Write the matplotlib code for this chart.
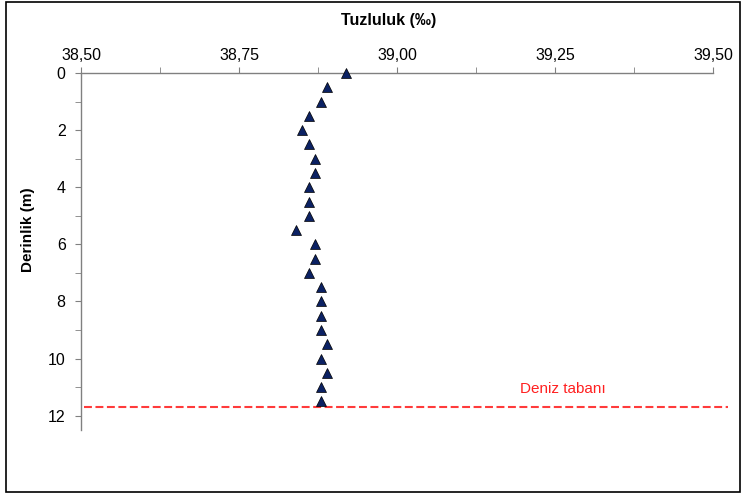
import matplotlib
matplotlib.use("Agg")
import matplotlib.pyplot as plt
from matplotlib.ticker import FixedLocator, FuncFormatter, MultipleLocator
from matplotlib.patches import Rectangle

plt.rcParams['font.family'] = ['Liberation Sans', 'DejaVu Sans']

depth = [0.0, 0.5, 1.0, 1.5, 2.0, 2.5, 3.0, 3.5, 4.0, 4.5, 5.0, 5.5,
         6.0, 6.5, 7.0, 7.5, 8.0, 8.5, 9.0, 9.5, 10.0, 10.5, 11.0, 11.5]
salinity = [38.92, 38.89, 38.88, 38.86, 38.85, 38.86, 38.87, 38.87, 38.86, 38.86, 38.86, 38.84,
            38.87, 38.87, 38.86, 38.88, 38.88, 38.88, 38.88, 38.89, 38.88, 38.89, 38.88, 38.88]
seabed_depth = 11.7
seabed_label = "Deniz tabanı"
x_ticks = [38.50, 38.75, 39.00, 39.25, 39.50]
y_ticks = [0, 2, 4, 6, 8, 10, 12]

fig = plt.figure(figsize=(7.44, 4.95), dpi=100)
ax = fig.add_axes([81/744, 1-430/495, (713-81)/744, (430-73)/495])

ax.plot(salinity, depth, linestyle='none', marker='^', markersize=7.5,
        markerfacecolor='#0b2163', markeredgecolor='#000000', markeredgewidth=0.5,
        zorder=3, clip_on=False)

ax.axhline(seabed_depth, xmin=0.005, xmax=1.024, color='#ff3b3b', linewidth=1.5,
           dashes=(3.8, 1.7), clip_on=False, zorder=2)
ax.text(39.263, 11.08, seabed_label, color='#ff2020', fontsize=11, ha='center', va='center')

ax.set_xlim(38.5, 39.5)
ax.set_ylim(12.5, 0)

ax.xaxis.tick_top()
ax.xaxis.set_label_position('top')
ax.xaxis.set_major_locator(FixedLocator(x_ticks))
ax.xaxis.set_minor_locator(MultipleLocator(0.125))
ax.xaxis.set_major_formatter(FuncFormatter(lambda v, p: f"{v:.2f}".replace('.', ',')))
ax.yaxis.set_major_locator(FixedLocator(y_ticks))
ax.yaxis.set_minor_locator(MultipleLocator(1))

for s in ['right', 'bottom']:
    ax.spines[s].set_visible(False)
for s in ['top', 'left']:
    ax.spines[s].set_color('#808080')
    ax.spines[s].set_linewidth(1.0)

ax.tick_params(axis='both', which='both', direction='out', length=4, color='#808080',
               labelsize=11.5, labelcolor='#000000')
ax.tick_params(axis='x', which='both', top=True, bottom=False, pad=3)
ax.tick_params(axis='y', which='both', pad=7)

ax.set_xlabel('Tuzluluk (‰)', fontsize=11.5, fontweight='bold')
ax.set_ylabel('Derinlik (m)', fontsize=11, fontweight='bold')
ax.xaxis.set_label_coords(0.486, 1.134)
ax.yaxis.set_label_coords(-0.0728, 0.56)

fig.patches.append(Rectangle((6/744, 1-492/495), (740-6)/744, (492-2)/495,
                             transform=fig.transFigure, fill=False,
                             edgecolor='#000000', linewidth=1.2))

fig.savefig('out.png', dpi=100)
